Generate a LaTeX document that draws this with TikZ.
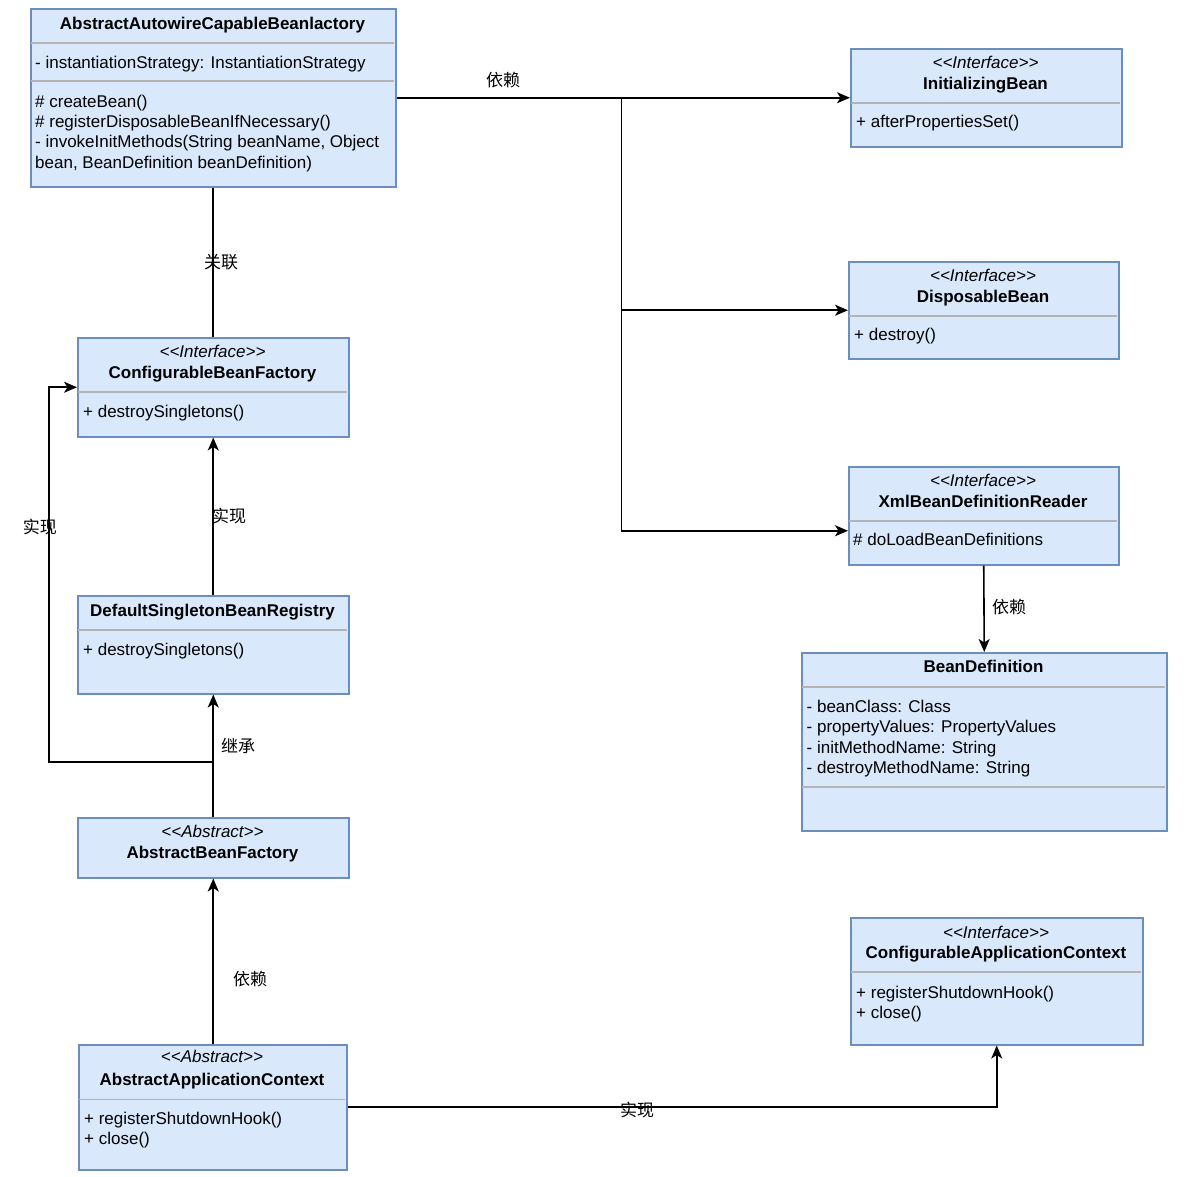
\documentclass[tikz,border=0pt]{standalone}
\usepackage{fontspec}
\setmainfont{Liberation Sans}
\newfontfamily\cjk{Noto Sans CJK SC}
\usetikzlibrary{arrows.meta}
\definecolor{fillc}{HTML}{DAE8FC}
\definecolor{bordc}{HTML}{6C8EBF}
\definecolor{sepc}{HTML}{B4B4B4}
\newcommand\stereo[1]{<\kern0pt<#1>\kern0pt>}
\begin{document}
\begin{tikzpicture}[x=1pt,y=-1pt,
  cls/.style={draw=bordc, fill=fillc, line width=1.5pt, inner sep=0pt, anchor=north west},
  sepl/.style={draw=sepc, line width=1.2pt},
  txt/.style={font=\fontsize{17}{20.4}\selectfont, inner sep=0pt, anchor=base west},
  nm/.style={font=\fontsize{17}{20.4}\selectfont\bfseries, inner sep=0pt, anchor=base},
  st/.style={font=\fontsize{17}{20.4}\selectfont\itshape, inner sep=0pt, anchor=base},
  lbl/.style={font=\cjk\fontsize{17}{20.4}\selectfont, inner sep=0pt},
  ln/.style={line width=1.6pt},
  arr/.style={line width=1.6pt, -{Stealth[length=13pt,width=11pt,inset=3.5pt]}}]
\useasboundingbox (0,0) rectangle (1194,1176);

% ---------- AbstractAutowireCapableBeanlactory ----------
\node[cls, minimum width=365pt, minimum height=178pt] (aacbf) at (30,8) {};
\draw[sepl] (31,43) -- (394,43);
\draw[sepl] (31,81) -- (394,81);
\node[nm] (aacbf-n) at (212.5,29) {AbstractAutowireCapableBeanlactory};
\node[txt] (aacbf-a1) at (35,68) {- instantiationStrategy: InstantiationStrategy};
\node[txt] (aacbf-m1) at (35,107) {\# createBean()};
\node[txt] (aacbf-m2) at (35,127.4) {\# registerDisposableBeanIfNecessary()};
\node[txt] (aacbf-m3) at (35,147.8) {- invokeInitMethods(String beanName, Object};
\node[txt] (aacbf-m4) at (35,168.2) {bean, BeanDefinition beanDefinition)};

% ---------- InitializingBean ----------
\node[cls, minimum width=271pt, minimum height=98pt] (ib) at (850,48) {};
\draw[sepl] (851,103) -- (1120,103);
\node[st] (ib-s) at (985.5,68.5) {\stereo{Interface}};
\node[nm] (ib-n) at (985.5,89.5) {InitializingBean};
\node[txt] (ib-m1) at (856,127) {+ afterPropertiesSet()};

% ---------- DisposableBean ----------
\node[cls, minimum width=270pt, minimum height=97pt] (db) at (848,261) {};
\draw[sepl] (849,316) -- (1117,316);
\node[st] (db-s) at (983,281.5) {\stereo{Interface}};
\node[nm] (db-n) at (983,302.5) {DisposableBean};
\node[txt] (db-m1) at (854,340) {+ destroy()};

% ---------- XmlBeanDefinitionReader ----------
\node[cls, minimum width=270pt, minimum height=98pt] (xml) at (848,466) {};
\draw[sepl] (849,521) -- (1117,521);
\node[st] (xml-s) at (983,486.5) {\stereo{Interface}};
\node[nm] (xml-n) at (983,507.5) {XmlBeanDefinitionReader};
\node[txt] (xml-m1) at (853,545) {\# doLoadBeanDefinitions};

% ---------- BeanDefinition ----------
\node[cls, minimum width=365pt, minimum height=178pt] (bd) at (801,652) {};
\draw[sepl] (802,687) -- (1165,687);
\node[nm] (bd-n) at (983.5,672.5) {BeanDefinition};
\draw[sepl] (802,787) -- (1165,787);
\node[txt] (bd-a1) at (806.5,712.3) {- beanClass: Class};
\node[txt] (bd-a2) at (806.5,732.7) {- propertyValues: PropertyValues};
\node[txt] (bd-a3) at (806.5,753.1) {- initMethodName: String};
\node[txt] (bd-a4) at (806.5,773.5) {- destroyMethodName: String};

% ---------- ConfigurableBeanFactory ----------
\node[cls, minimum width=271pt, minimum height=99pt] (cbf) at (77,337) {};
\draw[sepl] (78,392) -- (347,392);
\node[st] (cbf-s) at (212.5,357.5) {\stereo{Interface}};
\node[nm] (cbf-n) at (212.5,378.5) {ConfigurableBeanFactory};
\node[txt] (cbf-m1) at (83,417) {+ destroySingletons()};

% ---------- DefaultSingletonBeanRegistry ----------
\node[cls, minimum width=271pt, minimum height=98pt] (dsbr) at (77,595) {};
\draw[sepl] (78,630) -- (347,630);
\node[nm] (dsbr-n) at (212.5,616) {DefaultSingletonBeanRegistry};
\node[txt] (dsbr-m1) at (83,655) {+ destroySingletons()};

% ---------- AbstractBeanFactory ----------
\node[cls, minimum width=271pt, minimum height=60pt] (abf) at (77,817) {};
\node[st] (abf-s) at (212.5,837.5) {\stereo{Abstract}};
\node[nm] (abf-n) at (212.5,858.5) {AbstractBeanFactory};

% ---------- AbstractApplicationContext ----------
\node[cls, minimum width=268pt, minimum height=125pt] (aac) at (78,1044) {};
\draw[sepl] (79,1099.5) -- (345,1099.5);
\node[st] (aac-s) at (212,1062.5) {\stereo{Abstract}};
\node[nm] (aac-n) at (212,1085) {AbstractApplicationContext};
\node[txt] (aac-m1) at (84,1124.3) {+ registerShutdownHook()};
\node[txt] (aac-m2) at (84,1144.7) {+ close()};

% ---------- ConfigurableApplicationContext ----------
\node[cls, minimum width=292pt, minimum height=127pt] (cac) at (850,917) {};
\draw[sepl] (851,972) -- (1141,972);
\node[st] (cac-s) at (996,938) {\stereo{Interface}};
\node[nm] (cac-n) at (996,958.5) {ConfigurableApplicationContext};
\node[txt] (cac-m1) at (856,998.3) {+ registerShutdownHook()};
\node[txt] (cac-m2) at (856,1018.7) {+ close()};

% ---------- connectors ----------
\coordinate (j1) at (621.5,97);
\draw[arr] (aacbf.east) -- (ib.west);
\draw[arr] (j1) |- (db.west);
\draw[arr] (j1) |- ([yshift=-15pt]xml.west);
\node[lbl] (l1) at (503,80) {依赖};

\draw[ln] (aacbf.south) -- (cbf.north);
\node[lbl] (l2) at (221,262) {关联};

\draw[arr] (dsbr.north) -- (cbf.south);
\node[lbl] (l3) at (229,516) {实现};

\draw[arr] (abf.north) -- (dsbr.south);
\node[lbl] (l4) at (238,746) {继承};

\coordinate (lb) at (212.5,762);
\coordinate (lc) at (49,762);
\draw[arr] (lb) -- (lc) |- (cbf.west);
\node[lbl] (l5) at (40,527) {实现};

\draw[arr] (aac.north -| abf.north) -- (abf.south);
\node[lbl] (l6) at (250,979) {依赖};

\draw[arr] (aac.east) -| (cac.south);
\node[lbl] (l7) at (637,1110) {实现};

\draw[arr] (xml.south) -- (bd.north);
\node[lbl] (l8) at (1009,607) {依赖};
\end{tikzpicture}
\end{document}
